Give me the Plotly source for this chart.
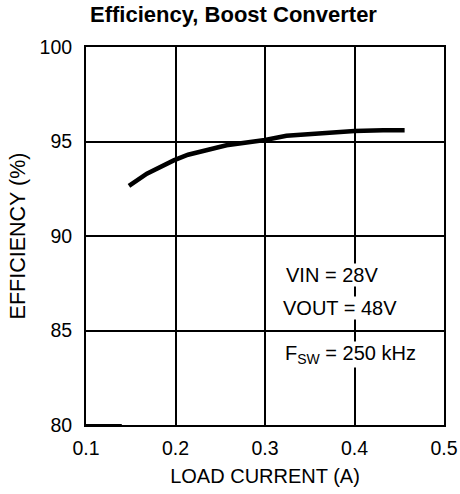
import plotly.graph_objects as go

load_current = [0.148, 0.168, 0.198, 0.214, 0.257, 0.300, 0.324, 0.354, 0.376, 0.400, 0.432, 0.456]
efficiency = [92.65, 93.3, 94.0, 94.3, 94.8, 95.08, 95.3, 95.4, 95.52, 95.56, 95.6, 95.6]

stub_x = [0.1, 0.14]
stub_y = [80, 80]

x_ticks = [0.1, 0.2, 0.3, 0.4, 0.5]
x_labels = ["0.1", "0.2", "0.3", "0.4", "0.5"]
y_ticks = [80, 85, 90, 95, 100]
y_labels = ["80", "85", "90", "95", "100"]

notes = ["VIN = 28V", "VOUT = 48V", "F<sub>SW</sub> = 250 kHz"]
note_x = [0.3225, 0.3195, 0.3215]
note_y = [87.94, 86.19, 83.75]

font = "Liberation Sans, Arial, sans-serif"

fig = go.Figure()
fig.add_trace(go.Scatter(x=load_current, y=efficiency, mode="lines",
                         line=dict(color="black", width=4.5), showlegend=False))
fig.add_trace(go.Scatter(x=stub_x, y=stub_y, mode="lines",
                         line=dict(color="black", width=2), showlegend=False))

for t, xx, yy in zip(notes, note_x, note_y):
    fig.add_annotation(x=xx, y=yy, text=t, showarrow=False, xanchor="left",
                       yanchor="middle", bgcolor="white", borderpad=0,
                       font=dict(family=font, size=20, color="black"))

fig.update_layout(
    width=460, height=494,
    margin=dict(l=86, r=16, t=47, b=69, autoexpand=False),
    paper_bgcolor="white", plot_bgcolor="white",
    title=dict(text="<b>Efficiency, Boost Converter</b>", x=0.5076, xanchor="center",
               yref="container", y=0.972, yanchor="middle",
               font=dict(family=font, size=22, color="black")),
    font=dict(family=font, size=19.5, color="black"),
)
fig.update_xaxes(range=[0.1, 0.5], tickvals=x_ticks, ticktext=x_labels,
                 showgrid=True, gridcolor="black", gridwidth=1.5,
                 showline=True, linecolor="black", linewidth=2, mirror=True,
                 ticks="", zeroline=False, ticklabelstandoff=5,
                 ticklabeloverflow="allow",
                 title=dict(text="LOAD CURRENT (A)", standoff=11,
                            font=dict(family=font, size=20)),
                 tickfont=dict(family=font, size=19.5))
fig.update_yaxes(range=[80, 100], tickvals=y_ticks, ticktext=y_labels,
                 showgrid=True, gridcolor="black", gridwidth=1.5,
                 showline=True, linecolor="black", linewidth=2, mirror=True,
                 ticks="", zeroline=False, ticklabelstandoff=8,
                 title=dict(text="EFFICIENCY (%)", standoff=8,
                            font=dict(family=font, size=21.5)),
                 tickfont=dict(family=font, size=19.5))

fig.write_html("out.html", config={"displayModeBar": False},
               post_script="document.body.style.margin='0';document.body.style.overflow='hidden';")
